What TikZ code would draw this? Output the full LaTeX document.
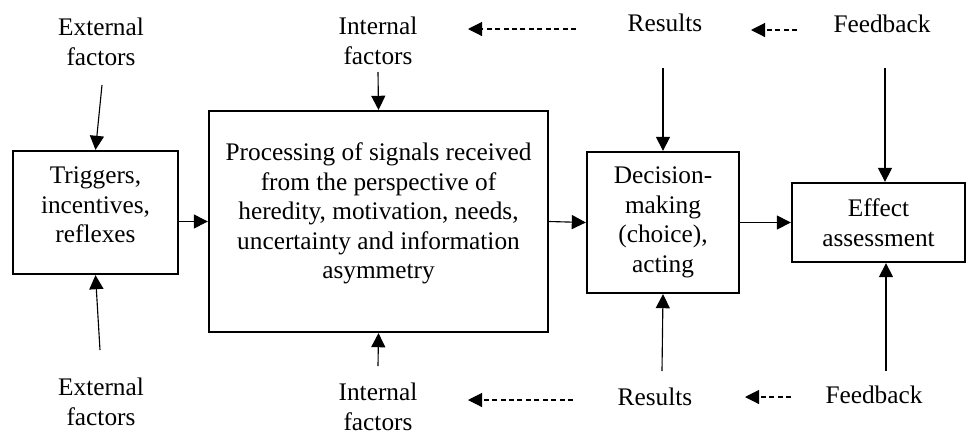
\documentclass[tikz,border=0pt]{standalone}
\usepackage{fontspec}
\setmainfont{Liberation Serif}
\usetikzlibrary{arrows.meta}
\tikzset{
	blk/.style={draw, line width=1.6pt, align=center, inner sep=0pt},
	lbl/.style={align=center, inner sep=0pt},
	arr/.style={line width=0.8pt, -{Triangle[length=10pt,width=10pt]}},
	dasharr/.style={arr, dash pattern=on 3.5pt off 2.5pt}
}

\begin{document}
\begin{tikzpicture}[x=0.025cm, y=-0.025cm, font=\fontsize{18}{21}\selectfont]
				\useasboundingbox (0,0) rectangle (968,436);
				
				\node[blk, minimum width=4.125cm, minimum height=3.075cm] (trig) at (95.5,212.5) {Triggers,\\incentives,\\reflexes\\[-10pt]};
				\node[blk, minimum width=8.475cm, minimum height=5.525cm] (proc) at (378.5,221.5) {Processing of signals received\\from the perspective of\\heredity, motivation, needs,\\uncertainty and information\\asymmetry\\[-6pt]};
				\node[blk, minimum width=3.8cm, minimum height=3.525cm] (dec) at (663,222.5) {Decision-\\making\\(choice),\\acting};
				\node[blk, minimum width=4.325cm, minimum height=1.975cm] (eff) at (878.5,222.5) {Effect\\assessment};
				
				\node[lbl] (extT) at (101,42) {External\\factors};
				\node[lbl] (extB) at (101,402) {External\\factors};
				\node[lbl] (intT) at (378,41) {Internal\\factors};
				\node[lbl] (intB) at (378,407) {Internal\\factors};
				\node[lbl] (resT) at (665,23) {Results};
				\node[lbl] (resB) at (655,397) {Results};
				\node[lbl] (fbT) at (882,24) {Feedback};
				\node[lbl] (fbB) at (874,395) {Feedback};
				
				\coordinate (eT) at (102,85);
				\coordinate (eB) at (100,350);
				\coordinate (iT) at (378,72);
				\coordinate (iB) at (378,366);
				\coordinate (rT) at (663,68);
				\coordinate (rB) at (662,371);
				\coordinate (fT) at (885,68);
				\coordinate (fB) at (886,371);
				
				\draw[arr] (eT) -- (trig.north);
				\draw[arr] (eB) -- (trig.south);
				\draw[arr] (iT) -- (proc.north);
				\draw[arr] (iB) -- (proc.south);
				\draw[arr] (rT) -- (dec.north);
				\draw[arr] (rB) -- (dec.south);
				\draw[arr] (fT) -- (fT |- eff.north);
				\draw[arr] (fB) -- (fB |- eff.south);
				
				\draw[arr] (trig.east |- proc.west) -- (proc.west);
				\draw[arr] (proc.east) -- (dec.west);
				\draw[arr] (dec.east) -- (eff.west);
				
				\coordinate (d1a) at (576,29);
				\coordinate (d1b) at (468,29);
				\coordinate (d2a) at (797,30);
				\coordinate (d2b) at (751,30);
				\coordinate (d3a) at (573,400);
				\coordinate (d3b) at (468,400);
				\coordinate (d4a) at (791,397);
				\coordinate (d4b) at (745,397);
				\draw[dasharr] (d1a) -- (d1b);
				\draw[dasharr] (d2a) -- (d2b);
				\draw[dasharr] (d3a) -- (d3b);
				\draw[dasharr] (d4a) -- (d4b);
			\end{tikzpicture}
\end{document}
